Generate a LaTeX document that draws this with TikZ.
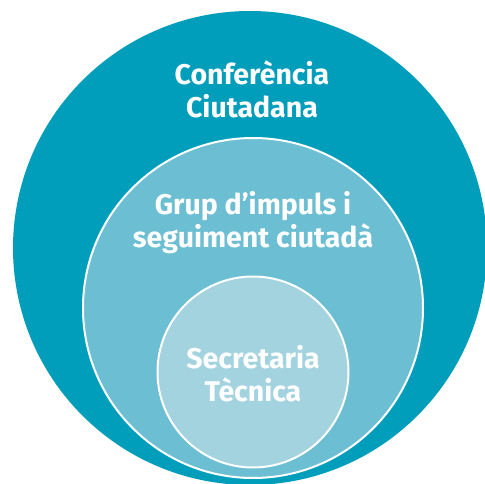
\documentclass[tikz,border=0pt]{standalone}
\usepackage{fontspec}
\setsansfont{Fira Sans}
\usetikzlibrary{shapes.geometric, positioning}
\usepackage{xcolor}
\definecolor{ringOuter}{RGB}{0,158,187}
\definecolor{ringMid}{RGB}{108,190,211}
\definecolor{ringInner}{RGB}{164,211,224}
\tikzset{
    font=\sffamily,
    % Shapes
    ring/.style={circle, inner sep=0pt},
    ringEdge/.style={ring, draw=white, line width=2pt},
    % Labels
    lbl/.style={text=white, font=\sffamily\bfseries\fontsize{28.5}{33}\selectfont, align=center}
}

\begin{document}
\begin{tikzpicture}[x=1pt, y=-1pt]

\useasboundingbox (0,0) rectangle (485,484);
\clip (0,0) rectangle (485,484);

\node[ring, fill=ringOuter, minimum size=474pt] (conf) at (250,248) {};
\node[ringEdge, fill=ringMid, minimum size=340pt] (grup) at (253,308) {};
\node[ringEdge, fill=ringInner, minimum size=191pt] (secr) at (253,372) {};

\node[lbl] (confText) at (252,89) {Conferència\\Ciutadana};
\node[lbl] (grupText) at (253,223) {Grup d’impuls i\\seguiment ciutadà};
\node[lbl] (secrText) at (253,374) {Secretaria\\Tècnica};

\end{tikzpicture}
\end{document}
